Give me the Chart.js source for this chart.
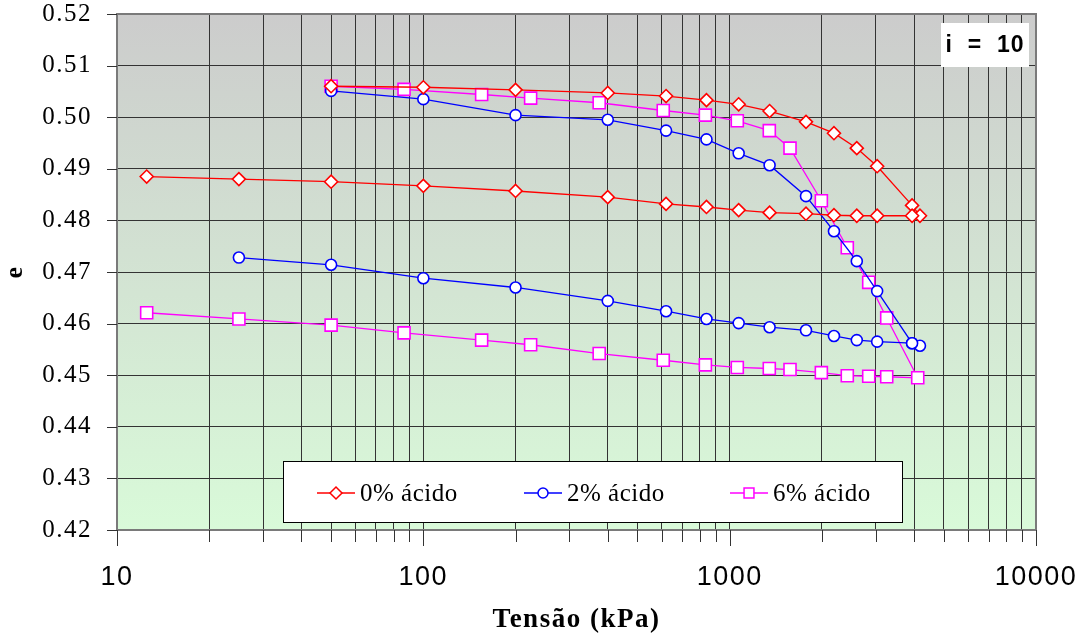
<!DOCTYPE html>
<html lang="pt">
<head>
<meta charset="utf-8">
<title>Índice de vazios x Tensão</title>
<script src="https://cdn.jsdelivr.net/npm/chart.js@4.4.1/dist/chart.umd.min.js"></script>
<style>
  html, body { margin: 0; padding: 0; background: #ffffff; }
  #wrap { width: 1087px; height: 637px; }
</style>
</head>
<body>
<div id="wrap"><canvas id="grafico" width="1087" height="637"></canvas></div>
<script>
// Tensões (kPa) e índices de vazios - carregamento seguido de descarregamento
const tensao0 = [50, 100, 200, 400, 620, 840, 1070, 1350, 1775, 2190, 2600, 3030, 3940, 4180,
  3940, 3030, 2600, 2190, 1775, 1350, 1070, 840, 620, 400, 200, 100, 50, 25, 12.5];
const e0 = [0.5060, 0.5058, 0.5053, 0.5047, 0.5041, 0.5033, 0.5025, 0.5012, 0.4991, 0.4969, 0.4940, 0.4905, 0.4829, 0.4809,
  0.4809, 0.4809, 0.4809, 0.4810, 0.4813, 0.4815, 0.4820, 0.4826, 0.4832, 0.4845, 0.4857, 0.4867, 0.4875, 0.4880, 0.4885];

const tensao2 = [50, 100, 200, 400, 620, 840, 1070, 1350, 1775, 2190, 2600, 3030, 3940, 4180,
  3940, 3030, 2600, 2190, 1775, 1350, 1070, 840, 620, 400, 200, 100, 50, 25];
const e2 = [0.5051, 0.5035, 0.5004, 0.4995, 0.4974, 0.4957, 0.4930, 0.4907, 0.4847, 0.4779, 0.4721, 0.4663, 0.4562, 0.4557,
  0.4562, 0.4565, 0.4568, 0.4576, 0.4587, 0.4593, 0.4601, 0.4609, 0.4624, 0.4644, 0.4670, 0.4688, 0.4714, 0.4728];

const tensao6 = [50, 86.5, 155, 224, 375, 607, 833, 1059, 1347, 1574, 1992, 2421, 2844, 3256, 4111,
  3256, 2844, 2421, 1992, 1574, 1347, 1059, 833, 607, 375, 224, 155, 86.5, 50, 25, 12.5];
const e6 = [0.5060, 0.5054, 0.5044, 0.5037, 0.5028, 0.5013, 0.5004, 0.4993, 0.4974, 0.4940, 0.4838, 0.4747, 0.4680, 0.4611, 0.4495,
  0.4497, 0.4498, 0.4499, 0.4505, 0.4511, 0.4513, 0.4515, 0.4520, 0.4529, 0.4542, 0.4559, 0.4568, 0.4582, 0.4597, 0.4609, 0.4621];

const nomesSeries = ['0% ácido', '2% ácido', '6% ácido'];

// ticks do eixo logarítmico (linhas de grade) e os que recebem rótulo
const ticksX = [10, 20, 30, 40, 50, 60, 70, 80, 90,
  100, 200, 300, 400, 500, 600, 700, 800, 900,
  1000, 2000, 3000, 4000, 5000, 6000, 7000, 8000, 9000, 10000];
const rotulosX = [10, 100, 1000, 10000];

const SERIF = "'Times New Roman', 'Liberation Serif', serif";
const SANS = "Arial, 'Liberation Sans', sans-serif";

function pontos(xs, ys) {
  return xs.map((x, i) => ({ x: x, y: ys[i] }));
}

function serie(label, xs, ys, cor, estilo, raio) {
  return {
    label: label,
    data: pontos(xs, ys),
    borderColor: cor,
    borderWidth: 1.3,
    backgroundColor: '#ffffff',
    pointStyle: estilo,
    pointRadius: raio,
    pointHoverRadius: raio,
    pointBackgroundColor: '#ffffff',
    pointBorderColor: cor,
    pointBorderWidth: 1.6,
    tension: 0,
    fill: false,
  };
}

// texto dos eixos um pouco mais espaçado
const espacoPlugin = {
  id: 'espaco',
  beforeLayout(chart) { chart.ctx.letterSpacing = '1.5px'; },
  beforeDraw(chart) { chart.ctx.letterSpacing = '1.5px'; }
};

// fundo em degradê cinza -> verde claro, moldura e marcas dos eixos
const fundoPlugin = {
  id: 'fundo',
  beforeDraw(chart) {
    const { ctx, chartArea: a } = chart;
    const g = ctx.createLinearGradient(0, a.top, 0, a.bottom);
    g.addColorStop(0, '#cccccc');
    g.addColorStop(1, '#d9fad9');
    ctx.save();
    ctx.fillStyle = g;
    ctx.fillRect(a.left, a.top, a.right - a.left, a.bottom - a.top);
    ctx.restore();
  },
  afterDraw(chart) {
    const { ctx, chartArea: a } = chart;
    const sx = chart.scales.x;
    const sy = chart.scales.y;
    ctx.save();
    ctx.strokeStyle = '#7a7a7a';
    ctx.lineWidth = 2;
    ctx.strokeRect(a.left, a.top, a.right - a.left, a.bottom - a.top);

    ctx.strokeStyle = '#333333';
    ctx.lineWidth = 1;
    ctx.beginPath();
    sx.ticks.forEach(t => {
      const px = Math.round(sx.getPixelForValue(t.value)) + 0.5;
      const len = rotulosX.includes(t.value) ? 16 : 12;
      ctx.moveTo(px, a.bottom);
      ctx.lineTo(px, a.bottom + len);
    });
    sy.ticks.forEach(t => {
      const py = Math.round(sy.getPixelForValue(t.value)) + 0.5;
      ctx.moveTo(a.left - 10, py);
      ctx.lineTo(a.left, py);
    });
    ctx.stroke();
    ctx.restore();
  }
};

// caixa "i = 10" e legenda dentro da área do gráfico
const anotacoesPlugin = {
  id: 'anotacoes',
  afterDraw(chart) {
    const ctx = chart.ctx;
    ctx.save();

    ctx.fillStyle = '#ffffff';
    ctx.fillRect(941, 23, 88, 44);
    ctx.fillStyle = '#000000';
    ctx.font = 'bold 23px ' + SANS;
    ctx.letterSpacing = '1px';
    ctx.textAlign = 'center';
    ctx.textBaseline = 'middle';
    ctx.fillText('i  =  10', 985, 46);

    // legenda
    ctx.fillStyle = '#ffffff';
    ctx.fillRect(283.5, 461.5, 619, 61);
    ctx.strokeStyle = '#000000';
    ctx.lineWidth = 1;
    ctx.strokeRect(283.5, 461.5, 619, 61);

    const inicio = [317, 524, 730];
    const yl = 493;
    chart.data.datasets.forEach((ds, i) => {
      const x0 = inicio[i];
      ctx.strokeStyle = ds.borderColor;
      ctx.lineWidth = 1.3;
      ctx.beginPath();
      ctx.moveTo(x0, yl);
      ctx.lineTo(x0 + 38, yl);
      ctx.stroke();
      ctx.fillStyle = '#ffffff';
      ctx.strokeStyle = ds.borderColor;
      ctx.lineWidth = 1.5;
      const r = ds.pointStyle === 'rect' ? 7 : (ds.pointStyle === 'rectRot' ? 6 : 5);
      Chart.helpers.drawPoint(ctx, { pointStyle: ds.pointStyle, rotation: 0, borderWidth: 1.5, radius: r }, x0 + 19, yl);
      ctx.fillStyle = '#000000';
      ctx.font = '25px ' + SERIF;
      ctx.letterSpacing = '0.5px';
      ctx.textAlign = 'left';
      ctx.textBaseline = 'middle';
      ctx.fillText(ds.label, x0 + 43, yl + 1);
    });
    ctx.restore();
  }
};

const ctx = document.getElementById('grafico').getContext('2d');
const grafico = new Chart(ctx, {
  type: 'line',
  data: {
    datasets: [
      serie(nomesSeries[0], tensao0, e0, '#ff0000', 'rectRot', 6.5),
      serie(nomesSeries[1], tensao2, e2, '#0000ff', 'circle', 5.5),
      serie(nomesSeries[2], tensao6, e6, '#ff00ff', 'rect', 8.5),
    ]
  },
  options: {
    responsive: false,
    animation: false,
    devicePixelRatio: 1,
    layout: { padding: { top: 14, right: 51, left: 0, bottom: 0 } },
    plugins: {
      legend: { display: false },
      tooltip: { enabled: false },
    },
    scales: {
      x: {
        type: 'logarithmic',
        position: 'bottom',
        min: 10,
        max: 10000,
        afterBuildTicks(axis) {
          axis.ticks = ticksX.map(v => ({ value: v }));
        },
        afterFit(axis) {
          axis.height = 107;
        },
        ticks: {
          autoSkip: false,
          maxRotation: 0,
          padding: 0,
          color: '#000000',
          font: { family: SANS, size: 27 },
          callback(value) {
            return rotulosX.includes(value) ? String(value) : '';
          }
        },
        grid: { color: '#333333', lineWidth: 1, tickLength: 31, tickColor: 'rgba(0,0,0,0)' },
        border: { color: '#7a7a7a', width: 2 },
        title: {
          display: true,
          text: 'Tensão (kPa)',
          color: '#000000',
          font: { family: SERIF, size: 27, weight: 'bold' },
          padding: { top: 0, bottom: 1 }
        }
      },
      y: {
        type: 'linear',
        min: 0.42,
        max: 0.52,
        afterFit(axis) {
          axis.width = 117;
        },
        ticks: {
          stepSize: 0.01,
          padding: 0,
          color: '#000000',
          font: { family: SERIF, size: 25, lineHeight: 1.05 },
          callback(value) {
            return value.toFixed(2);
          }
        },
        grid: { color: '#333333', lineWidth: 1, tickLength: 25, tickColor: 'rgba(0,0,0,0)' },
        border: { color: '#7a7a7a', width: 2 },
        title: {
          display: true,
          text: 'e',
          color: '#000000',
          font: { family: SERIF, size: 26, weight: 'bold' },
          padding: { top: 0, bottom: 0 }
        }
      }
    }
  },
  plugins: [espacoPlugin, fundoPlugin, anotacoesPlugin]
});
</script>
</body>
</html>
